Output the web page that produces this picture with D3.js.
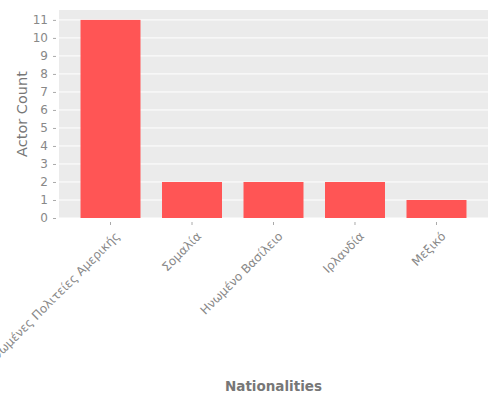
<!DOCTYPE html>
<html>
<head>
<meta charset="utf-8">
<script src="https://cdn.jsdelivr.net/npm/d3@7"></script>
<style>
  body { margin: 0; background: #fff; }
  text { font-family: "DejaVu Sans", sans-serif; }
</style>
</head>
<body>
<div id="chart-area"></div>
<script>
const nationalities = ["Ηνωμένες Πολιτείες Αμερικής", "Σομαλία", "Ηνωμένο Βασίλειο", "Ιρλανδία", "Μεξικό"]
const actorCounts = [11, 2, 2, 2, 1]
const yTicks = [0, 1, 2, 3, 4, 5, 6, 7, 8, 9, 10, 11]

const MARGIN = { LEFT: 59, RIGHT: 12, TOP: 10, BOTTOM: 182 }
const WIDTH = 500 - MARGIN.LEFT - MARGIN.RIGHT
const HEIGHT = 400 - MARGIN.TOP - MARGIN.BOTTOM

const svg = d3.select("#chart-area").append("svg")
  .attr("width", 500)
  .attr("height", 400)

const g = svg.append("g")
  .attr("transform", `translate(${MARGIN.LEFT}, ${MARGIN.TOP})`)

const x = d3.scaleBand()
  .domain(nationalities)
  .range([0, WIDTH])
  .paddingInner(0.264)
  .paddingOuter(0.264)

const y = d3.scaleLinear()
  .domain([0, 11.55])
  .range([HEIGHT, 0])

// panel background
g.append("rect")
  .attr("width", WIDTH)
  .attr("height", HEIGHT)
  .attr("fill", "#ebebeb")

// grid lines
g.selectAll(".grid")
  .data(yTicks)
  .enter().append("line")
  .attr("x1", 0)
  .attr("x2", WIDTH)
  .attr("y1", d => y(d))
  .attr("y2", d => y(d))
  .attr("stroke", "#fff")
  .attr("stroke-width", 1)

// bars
g.selectAll(".bar")
  .data(nationalities)
  .enter().append("rect")
  .attr("x", d => x(d))
  .attr("y", (d, i) => y(actorCounts[i]))
  .attr("width", x.bandwidth())
  .attr("height", (d, i) => HEIGHT - y(actorCounts[i]))
  .attr("fill", "#ff5555")

// y axis
const yAxisCall = d3.axisLeft(y)
  .tickValues(yTicks)
  .tickSize(3)
  .tickPadding(5)
const yAxis = g.append("g")
  .attr("transform", "translate(-3, 0)")
  .call(yAxisCall)
yAxis.select(".domain").remove()
yAxis.selectAll("line").attr("stroke", "#aaa")
yAxis.selectAll("text")
  .attr("fill", "#888")
  .style("font-size", "12px")

// x axis
const xAxisCall = d3.axisBottom(x)
  .tickSize(3)
const xAxis = g.append("g")
  .attr("transform", `translate(0, ${HEIGHT + 4})`)
  .call(xAxisCall)
xAxis.select(".domain").remove()
xAxis.selectAll("line").attr("stroke", "#aaa")
xAxis.selectAll("text")
  .attr("fill", "#888")
  .style("font-size", "12px")
  .attr("text-anchor", "end")
  .attr("x", 0)
  .attr("y", 0)
  .attr("dy", "0.35em")
  .attr("transform", "translate(7, 12) rotate(-45)")

// X label
g.append("text")
  .attr("x", WIDTH / 2)
  .attr("y", HEIGHT + 173)
  .attr("text-anchor", "middle")
  .attr("fill", "#777")
  .style("font-size", "13.5px")
  .style("font-weight", "bold")
  .text("Nationalities")

// Y label
g.append("text")
  .attr("x", -(HEIGHT / 2))
  .attr("y", -32)
  .attr("transform", "rotate(-90)")
  .attr("text-anchor", "middle")
  .attr("fill", "#777")
  .style("font-size", "14.5px")
  .text("Actor Count")
</script>
</body>
</html>
